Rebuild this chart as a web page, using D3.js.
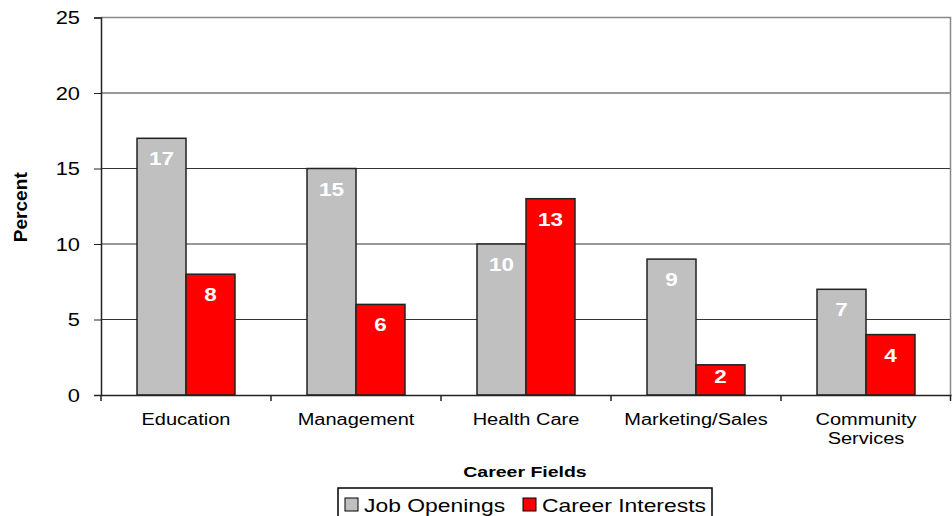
<!DOCTYPE html>
<html>
<head>
<meta charset="utf-8">
<script src="https://cdn.jsdelivr.net/npm/d3@7"></script>
<style>
  body { margin: 0; background: #fff; }
  text { font-family: "Liberation Sans", Arial, sans-serif; }
</style>
</head>
<body>
<svg id="chart"></svg>
<script>
const categories = ["Education", "Management", "Health Care", "Marketing/Sales", "Community Services"];
const jobOpenings = [17, 15, 10, 9, 7];
const careerInterests = [8, 6, 13, 2, 4];
const yTicks = [0, 5, 10, 15, 20, 25];
const seriesNames = ["Job Openings", "Career Interests"];
const seriesColors = ["#c0c0c0", "#ff0000"];

const width = 952;
const height = 516;
const margin = { top: 17.5, right: 1, bottom: 121, left: 101 };
const stretch = 1.25; // the original text is drawn wide

const svg = d3.select("#chart").attr("width", width).attr("height", height);

const x_scale = d3.scaleBand()
  .domain(categories)
  .range([margin.left, width - margin.right])
  .padding(0);

const x_inner = d3.scaleBand()
  .domain(seriesNames)
  .range([0, x_scale.bandwidth()])
  .paddingInner(0)
  .paddingOuter(0.735);

const y_scale = d3.scaleLinear().domain([0, 25]).range([height - margin.bottom, margin.top]);

// gridlines
svg.append("g")
  .selectAll("line")
  .data(yTicks.filter((d) => d > 0 && d < 25))
  .join("line")
  .attr("x1", margin.left)
  .attr("x2", width - margin.right)
  .attr("y1", (d) => y_scale(d))
  .attr("y2", (d) => y_scale(d))
  .attr("stroke", "#333")
  .attr("stroke-width", 1);

// plot border (top and right)
svg.append("path")
  .attr("d", `M${margin.left},${y_scale(25)}H${width - margin.right - 0.5}V${y_scale(0)}`)
  .attr("fill", "none")
  .attr("stroke", "#888")
  .attr("stroke-width", 1.5);

const data = categories.map((c, i) => ({
  cat: c,
  values: [
    { key: seriesNames[0], value: jobOpenings[i], color: seriesColors[0] },
    { key: seriesNames[1], value: careerInterests[i], color: seriesColors[1] }
  ]
}));

const groups = svg.append("g")
  .selectAll("g")
  .data(data)
  .join("g")
  .attr("transform", (d) => `translate(${x_scale(d.cat)},0)`);

groups.selectAll("rect")
  .data((d) => d.values)
  .join("rect")
  .attr("x", (d) => x_inner(d.key))
  .attr("y", (d) => y_scale(d.value))
  .attr("width", x_inner.bandwidth())
  .attr("height", (d) => y_scale(0) - y_scale(d.value))
  .attr("fill", (d) => d.color)
  .attr("stroke", "#222")
  .attr("stroke-width", 1.5);

// value labels sit near the top of the bar, kept inside short bars
groups.selectAll("text.val")
  .data((d) => d.values)
  .join("text")
  .attr("class", "val")
  .attr("transform", (d) =>
    `translate(${x_inner(d.key) + x_inner.bandwidth() / 2},${Math.min(y_scale(d.value) + 27, y_scale(0) - 12)}) scale(${stretch},1)`)
  .attr("text-anchor", "middle")
  .attr("fill", "#fff")
  .attr("font-weight", "bold")
  .attr("font-size", 18)
  .text((d) => d.value);

// y axis
const yAxis = svg.append("g")
  .attr("transform", `translate(${margin.left},0)`)
  .call(d3.axisLeft(y_scale).tickValues(yTicks).tickSize(7));
yAxis.select(".domain").attr("stroke", "#222").attr("stroke-width", 1.5);
yAxis.selectAll(".tick line").attr("stroke", "#222");
yAxis.selectAll(".tick text")
  .attr("x", 0)
  .attr("dy", "0.36em")
  .attr("transform", `translate(-21,0) scale(${stretch},1)`)
  .attr("font-size", 17.5)
  .attr("fill", "#000")
  .style("font-family", "'Liberation Sans', Arial, sans-serif");

// x axis
const xAxis = svg.append("g")
  .attr("transform", `translate(0,${y_scale(0)})`)
  .call(d3.axisBottom(x_scale).tickSize(0));
xAxis.select(".domain").attr("stroke", "#222").attr("stroke-width", 1.5);
xAxis.selectAll(".tick text").remove();
xAxis.selectAll(".tick")
  .append("text")
  .attr("transform", `scale(${stretch},1)`)
  .attr("fill", "#000")
  .attr("font-size", 16)
  .attr("text-anchor", "middle")
  .style("font-family", "'Liberation Sans', Arial, sans-serif")
  .selectAll("tspan")
  .data((d) => (d === "Community Services" ? ["Community", "Services"] : [d]))
  .join("tspan")
  .attr("x", 0)
  .attr("y", (d, i) => 30 + i * 19)
  .text((d) => d);

// category boundary ticks
svg.append("g")
  .selectAll("line")
  .data(categories.map((c) => x_scale(c)).concat([width - margin.right - 0.5]))
  .join("line")
  .attr("x1", (d) => d)
  .attr("x2", (d) => d)
  .attr("y1", y_scale(0))
  .attr("y2", y_scale(0) + 6)
  .attr("stroke", "#222")
  .attr("stroke-width", 1.5);

// axis titles
svg.append("text")
  .attr("transform", `translate(27,${(margin.top + y_scale(0)) / 2 + 1}) rotate(-90)`)
  .attr("text-anchor", "middle")
  .attr("font-weight", "bold")
  .attr("font-size", 18)
  .attr("textLength", 70)
  .attr("lengthAdjust", "spacingAndGlyphs")
  .text("Percent");

svg.append("text")
  .attr("transform", `translate(525,477) scale(1.3,1)`)
  .attr("text-anchor", "middle")
  .attr("font-weight", "bold")
  .attr("font-size", 15)
  .text("Career Fields");

// legend
const legend = svg.append("g").attr("transform", "translate(338,488)");
legend.append("rect")
  .attr("x", 0).attr("y", 0)
  .attr("width", 374).attr("height", 32)
  .attr("fill", "#fff")
  .attr("stroke", "#000")
  .attr("stroke-width", 1.5);

const legendX = [7, 185];
const items = legend.selectAll("g.item")
  .data(seriesNames)
  .join("g")
  .attr("class", "item")
  .attr("transform", (d, i) => `translate(${legendX[i]},0)`);
items.append("rect")
  .attr("x", 0).attr("y", 10)
  .attr("width", 13).attr("height", 13)
  .attr("fill", (d, i) => seriesColors[i])
  .attr("stroke", "#000")
  .attr("stroke-width", 1);
items.append("text")
  .attr("transform", `translate(19,24) scale(${stretch},1)`)
  .attr("font-size", 18.3)
  .text((d) => d);
</script>
</body>
</html>
